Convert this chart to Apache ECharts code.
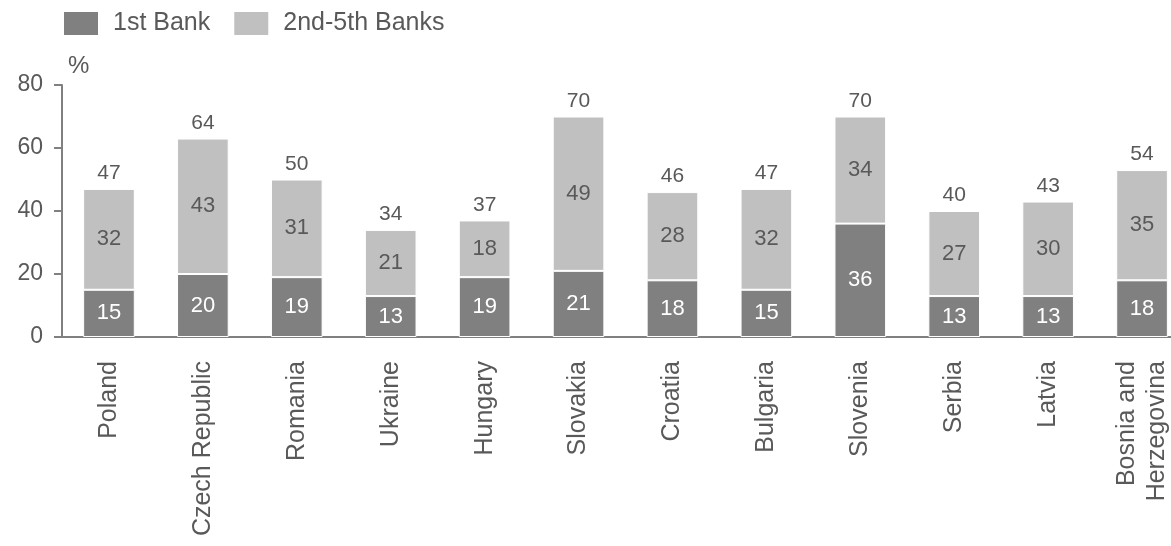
<!DOCTYPE html>
<html>
<head>
<meta charset="utf-8">
<script src="https://cdn.jsdelivr.net/npm/echarts@6/dist/echarts.min.js"></script>
<style>
html,body{margin:0;padding:0;background:#fff;overflow:hidden;}
#chart{width:1190px;height:546px;}
</style>
</head>
<body>
<div id="chart"></div>
<script>
var countries = ["Poland", "Czech Republic", "Romania", "Ukraine", "Hungary", "Slovakia",
	"Croatia", "Bulgaria", "Slovenia", "Serbia", "Latvia", "Bosnia and\nHerzegovina"];
var firstBank = [15, 20, 19, 13, 19, 21, 18, 15, 36, 13, 13, 18];
var otherBanks = [32, 43, 31, 21, 18, 49, 28, 32, 34, 27, 30, 35];
var totals = [47, 64, 50, 34, 37, 70, 46, 47, 70, 40, 43, 54];
var zeros = countries.map(function(){ return 0; });

var textColor = "#595959";
var font = "Liberation Sans";

// the last category runs past the right edge of the picture, so the canvas is a bit wider than the window
var option = {
	backgroundColor: "#fff",
	textStyle: { fontFamily: font },
	animation: false,
	legend: {
		left: 62,
		top: 10,
		padding: 0,
		icon: "rect",
		itemWidth: 36,
		itemHeight: 25,
		itemGap: 22,
		data: ["1st Bank", "2nd-5th Banks"],
		textStyle: { color: textColor, fontSize: 25, fontFamily: font, padding: [2, 0, 0, 9] }
	},
	grid: { left: 62, top: 85, bottom: 209, right: 1, containLabel: false },
	xAxis: {
		type: "category",
		data: countries,
		axisTick: { show: false },
		axisLine: { lineStyle: { color: "#808080", width: 2 } },
		axisLabel: {
			rotate: 90,
			interval: 0,
			margin: 24,
			color: textColor,
			fontSize: 25,
			fontFamily: font,
			lineHeight: 30
		}
	},
	yAxis: {
		type: "value",
		min: 0,
		max: 80,
		interval: 20,
		name: "%",
		nameGap: 7,
		nameTextStyle: { color: textColor, fontSize: 24, fontFamily: font, align: "left", padding: [0, 0, 0, 6] },
		splitLine: { show: false },
		axisLine: { show: true, lineStyle: { color: "#808080", width: 2 } },
		axisTick: { show: true, length: 8, lineStyle: { color: "#808080", width: 2 } },
		axisLabel: { color: textColor, fontSize: 23, fontFamily: font, margin: 19 }
	},
	series: [
		{
			name: "1st Bank",
			type: "bar",
			stack: "total",
			barWidth: "55%",
			data: firstBank,
			itemStyle: { color: "#808080", borderColor: "#fff", borderWidth: 1 },
			label: { show: true, position: "inside", color: "#fff", fontSize: 22, fontFamily: font }
		},
		{
			name: "2nd-5th Banks",
			type: "bar",
			stack: "total",
			data: otherBanks,
			itemStyle: { color: "#c0c0c0", borderColor: "#fff", borderWidth: 1 },
			label: { show: true, position: "inside", color: textColor, fontSize: 22, fontFamily: font }
		},
		{
			name: "Total",
			type: "bar",
			stack: "total",
			data: zeros,
			itemStyle: { color: "transparent" },
			label: {
				show: true,
				position: "top",
				distance: 5,
				color: textColor,
				fontSize: 21,
				fontFamily: font,
				formatter: function(p){ return totals[p.dataIndex]; }
			}
		}
	]
};

var myChart = echarts.init(document.getElementById("chart"));
myChart.setOption(option);
</script>
</body>
</html>
